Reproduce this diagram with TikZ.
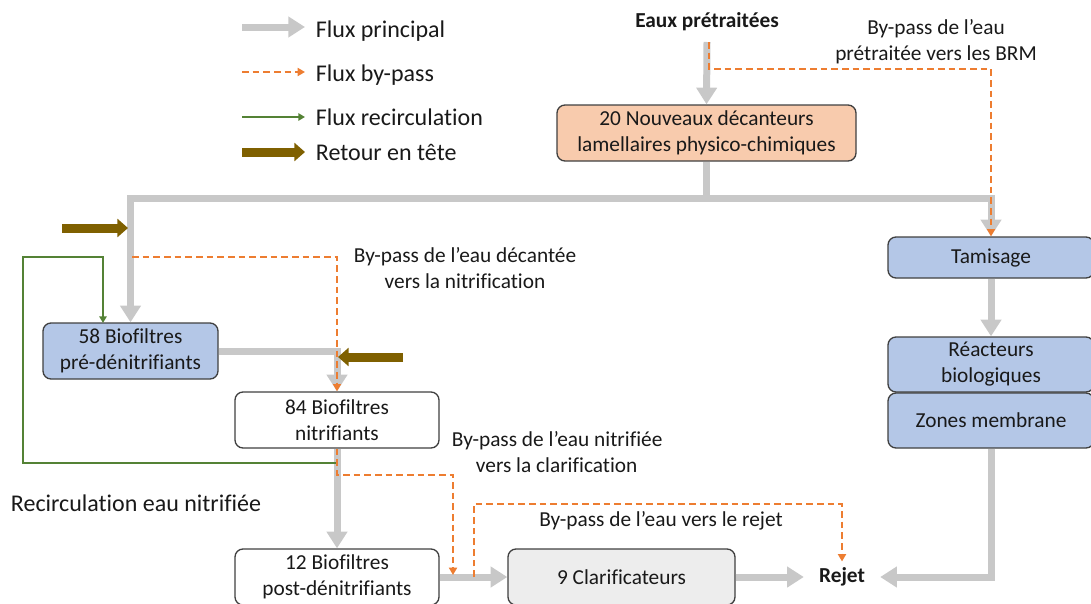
\documentclass[tikz,border=0pt]{standalone}
\usepackage{fontspec}
\setmainfont{Carlito}[Ligatures=NoCommon]
\usetikzlibrary{arrows.meta}

\definecolor{flowgray}{RGB}{200,200,200}
\definecolor{bporange}{RGB}{237,125,49}
\definecolor{recgreen}{RGB}{84,130,53}
\definecolor{retbrown}{RGB}{127,96,0}
\definecolor{boxblue}{RGB}{180,199,231}
\definecolor{boxpeach}{RGB}{248,203,173}
\definecolor{boxgray}{RGB}{237,237,237}
\definecolor{boxline}{RGB}{64,64,64}
\definecolor{txtdark}{RGB}{25,25,25}

\begin{document}
\begin{tikzpicture}[x=0.75pt, y=-0.75pt,
	every node/.style={font=\fontsize{16}{19.5}\selectfont, text=txtdark},
	box/.style={draw=boxline, line width=1pt, rounded corners=6pt, align=center,
		minimum height=42pt, inner sep=2pt},
	lbl/.style={align=center, inner sep=2pt},
	lblbold/.style={font=\fontsize{16}{19.5}\selectfont\bfseries, inner sep=2pt},
	legend/.style={font=\fontsize{18}{21}\selectfont, anchor=west, inner sep=2pt},
	principal/.style={draw=flowgray, line width=5.25pt, -{Triangle[width=15pt,length=12.5pt]}},
	bypass/.style={draw=bporange, line width=1.5pt, dash pattern=on 5pt off 3pt,
		-{Triangle[width=6pt,length=5.5pt]}},
	recirc/.style={draw=recgreen, line width=1.6pt, -{Triangle[width=5.5pt,length=5pt]}},
	retour/.style={draw=retbrown, line width=6.75pt, -{Triangle[width=13.5pt,length=8pt]}}]
	\useasboundingbox (0,0) rectangle (1091,603);

	% legende
	\coordinate (lgP1) at (242,27);  \coordinate (lgP2) at (305,27);
	\coordinate (lgB1) at (242,72);  \coordinate (lgB2) at (305,72);
	\coordinate (lgR1) at (242,117); \coordinate (lgR2) at (305,117);
	\coordinate (lgT1) at (242,152); \coordinate (lgT2) at (305,152);
	\draw [principal] (lgP1) -- (lgP2);
	\draw [bypass] (lgB1) -- (lgB2);
	\draw [recirc] (lgR1) -- (lgR2);
	\draw [retour] (lgT1) -- (lgT2);
	\node [legend] (lgPtxt) at (313,31) {Flux principal};
	\node [legend] (lgBtxt) at (313,75) {Flux by-pass};
	\node [legend] (lgRtxt) at (313,117) {Flux recirculation};
	\node [legend] (lgTtxt) at (313,152) {Retour en tête};

	% ouvrages
	\node [lblbold] (eaux) at (707,22) {Eaux prétraitées};
	\node [box, fill=boxpeach, minimum width=224.25pt] (deca) at (706.5,133)
		{20 Nouveaux décanteurs\\lamellaires physico-chimiques};
	\node [box, fill=boxblue, minimum width=131.25pt] (bio58) at (130.5,351)
		{58 Biofiltres\\pré-dénitrifiants};
	\node [box, fill=white, minimum width=153pt] (bio84) at (337,420)
		{84 Biofiltres\\nitrifiants};
	\node [box, fill=white, minimum width=153pt] (bio12) at (337,577)
		{12 Biofiltres\\post-dénitrifiants};
	\node [box, fill=boxgray, minimum width=170.25pt] (clarif) at (621.5,577)
		{9 Clarificateurs};
	\node [lblbold, inner xsep=11.25pt, inner ysep=4.5pt] (rejet) at (842,577) {Rejet};
	\node [box, fill=boxblue, minimum width=154.5pt, minimum height=30.75pt] (tamis)
		at (991,257.5) {Tamisage};
	\node [box, fill=boxblue, minimum width=154.5pt, minimum height=41.25pt] (reac)
		at (991,364.5) {Réacteurs\\biologiques};
	\node [box, fill=boxblue, minimum width=154.5pt, minimum height=41.25pt] (zones)
		at (991,420.5) {Zones membrane};

	% textes
	\node [lbl] (lblBRM) at (936,42) {By-pass de l’eau\\prétraitée vers les BRM};
	\node [lbl] (lblDec) at (465,268) {By-pass de l’eau décantée\\vers la nitrification};
	\node [lbl, align=left, anchor=west] (lblNit) at (449,452)
		{By-pass de l’eau nitrifiée\\\hspace*{18pt}vers la clarification};
	\node [lbl] (lblRej) at (661,521) {By-pass de l’eau vers le rejet};
	\node [legend] (lblRec) at (8,503) {Recirculation eau nitrifiée};

	% points de passage
	\coordinate (inlet) at (707,42);
	\coordinate (hub) at (706.5,198);
	\coordinate (bpTop) at (709,42);
	\coordinate (bpDec) at (132,257);
	\coordinate (bpNitEnd) at (453,575);
	\coordinate (bpRejStart) at (474,577);
	\coordinate (recStart) at (337,463);
	\coordinate (recEnd) at (103,323);
	\coordinate (ret1a) at (62,228);  \coordinate (ret1b) at (128,228);
	\coordinate (ret2a) at (403,357); \coordinate (ret2b) at (338,357);

	% flux principal
	\draw [principal] (inlet) -- (deca.north);
	\draw [principal] (deca.south) -- (hub) -| (bio58.north);
	\draw [principal] (hub) -| (tamis.north);
	\draw [principal] (bio58.east) -| (bio84.north);
	\draw [principal] (bio84.south) -- (bio12.north);
	\draw [principal] (bio12.east) -- (clarif.west);
	\draw [principal] (clarif.east) -- (rejet.west);
	\draw [principal] (tamis.south) -- (reac.north);
	\draw [principal] (zones.south) |- (rejet.east);

	% recirculation
	\draw [recirc] (recStart) -| (23,257) -| (recEnd);

	% by-pass
	\draw [bypass] (bpTop) -- ++(0,27) -| (tamis.north);
	\draw [bypass] (bpDec) -| (bio84.north);
	\draw [bypass] (bio84.south) -- ++(0,26) -| (bpNitEnd);
	\draw [bypass] (bpRejStart) -- ++(0,-73) -| (rejet.north);

	% retour en tete
	\draw [retour] (ret1a) -- (ret1b);
	\draw [retour] (ret2a) -- (ret2b);
\end{tikzpicture}
\end{document}
